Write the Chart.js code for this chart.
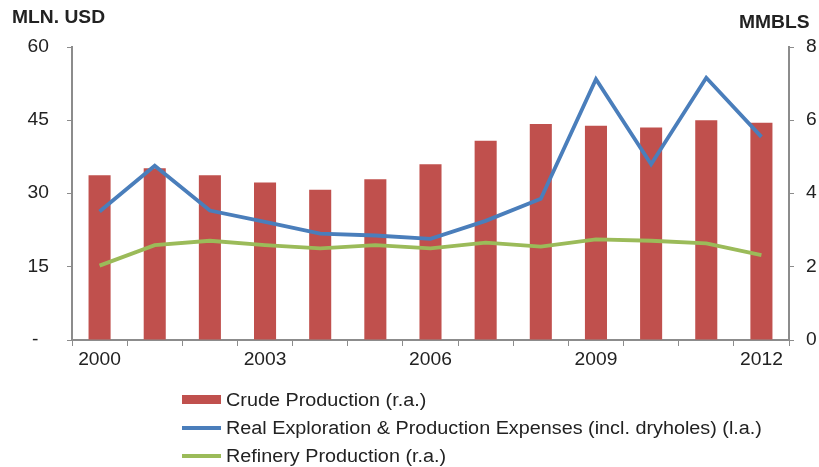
<!DOCTYPE html>
<html>
<head>
<meta charset="utf-8">
<script src="https://cdn.jsdelivr.net/npm/chart.js@4"></script>
<style>
  html,body{margin:0;padding:0;background:#fff;}
  #wrap{position:relative;width:819px;height:467px;}
</style>
</head>
<body>
<div id="wrap"><canvas id="c" width="819" height="467"></canvas></div>
<script>
const years = ['2000','2001','2002','2003','2004','2005','2006','2007','2008','2009','2010','2011','2012'];
const crudeProduction = [4.50,4.69,4.50,4.30,4.10,4.39,4.80,5.44,5.90,5.85,5.80,6.00,5.93];
const expenses = [26.3,35.7,26.5,24.2,21.8,21.4,20.7,24.4,28.9,53.4,36.0,53.7,41.6];
const refinery = [2.03,2.59,2.71,2.59,2.50,2.59,2.50,2.66,2.55,2.75,2.71,2.64,2.32];
const leftTicks = {0:'-  ',15:'15',30:'30',45:'45',60:'60'};
const labelsShown = ['2000','2003','2006','2009','2012'];
const seriesNames = ['Crude Production (r.a.)','Real Exploration & Production Expenses (incl. dryholes) (l.a.)','Refinery Production (r.a.)'];

const FONT = "'Liberation Sans', Arial, sans-serif";
const TXT = '#222222';
const AX = '#8c8c8c';
const SX = 1.1; // horizontal text stretch seen in the reference

function stretchText(ctx, text, x, y, align) {
  ctx.save();
  ctx.translate(x, y);
  ctx.scale(SX, 1);
  ctx.textAlign = align;
  ctx.textBaseline = 'middle';
  ctx.fillText(text, 0, 0);
  ctx.restore();
}

const extras = {
  id: 'extras',
  afterDraw(chart) {
    const ctx = chart.ctx;
    ctx.save();
    ctx.fillStyle = TXT;
    // axis titles
    ctx.font = 'bold 17.5px ' + FONT;
    stretchText(ctx, 'MLN. USD', 12, 18, 'left');
    stretchText(ctx, 'MMBLS', 739, 23, 'left');
    // tick labels
    ctx.font = '17.5px ' + FONT;
    const sx = chart.scales.x, sl = chart.scales.yL, sr = chart.scales.yR;
    sx.ticks.forEach((t, i) => { if (t.label) stretchText(ctx, t.label, sx.getPixelForTick(i), 360, 'center'); });
    sl.ticks.forEach((t, i) => { if (t.label) stretchText(ctx, t.label, 49, sl.getPixelForTick(i), 'right'); });
    sr.ticks.forEach((t, i) => { if (t.label) stretchText(ctx, t.label, 806, sr.getPixelForTick(i), 'left'); });
    // legend
    const rows = [400, 428, 456];
    chart.data.datasets.forEach((ds, i) => {
      const y = rows[i];
      ctx.fillStyle = ds.type === 'bar' ? ds.backgroundColor : ds.borderColor;
      if (ds.type === 'bar') {
        ctx.fillRect(182, y - 5, 39, 9);
      } else {
        ctx.fillRect(182, y - 2, 39, 4);
      }
      ctx.fillStyle = TXT;
      ctx.font = '18px ' + FONT;
      stretchText(ctx, ds.label, 226, y + 1, 'left');
    });
    ctx.restore();
  }
};

new Chart(document.getElementById('c'), {
  data: {
    labels: years,
    datasets: [
      {type:'bar', label: seriesNames[0], data: crudeProduction, yAxisID:'yR',
       backgroundColor:'#C0504D', borderWidth:0,
       barPercentage:0.8, categoryPercentage:0.5, order:2},
      {type:'line', label: seriesNames[1], data: expenses, yAxisID:'yL',
       borderColor:'#4A7EBB', borderWidth:3.8, pointRadius:0, tension:0, order:1},
      {type:'line', label: seriesNames[2], data: refinery, yAxisID:'yR',
       borderColor:'#9BBB59', borderWidth:3.8, pointRadius:0, tension:0, order:0}
    ]
  },
  options: {
    responsive:false,
    animation:false,
    layout:{padding:{top:47,left:0,right:0,bottom:0}},
    plugins:{legend:{display:false}, tooltip:{enabled:false}},
    scales:{
      x:{
        offset:true,
        grid:{offset:true, drawOnChartArea:false, drawTicks:true, tickLength:6, color:AX, lineWidth:1},
        border:{color:AX, width:2},
        ticks:{autoSkip:false, maxRotation:0, padding:4, color:'rgba(0,0,0,0)', font:{family:FONT, size:17.5},
               callback:function(v,i){ const l = years[i]; return labelsShown.includes(l) ? l : ''; }},
        afterFit(s){ s.height = 127; }
      },
      yL:{
        position:'left', min:0, max:60,
        grid:{drawOnChartArea:false, tickLength:5, color:AX},
        border:{color:AX, width:2},
        ticks:{stepSize:15, padding:18, color:'rgba(0,0,0,0)', font:{family:FONT, size:17.5},
               callback:(v)=> leftTicks[v] !== undefined ? leftTicks[v] : ''},
        afterFit(s){ s.width = 72; }
      },
      yR:{
        position:'right', min:0, max:8,
        grid:{drawOnChartArea:false, tickLength:5, color:AX},
        border:{color:AX, width:2},
        ticks:{stepSize:2, padding:12, color:'rgba(0,0,0,0)', font:{family:FONT, size:17.5}},
        afterFit(s){ s.width = 30; }
      }
    }
  },
  plugins:[extras]
});
</script>
</body>
</html>
